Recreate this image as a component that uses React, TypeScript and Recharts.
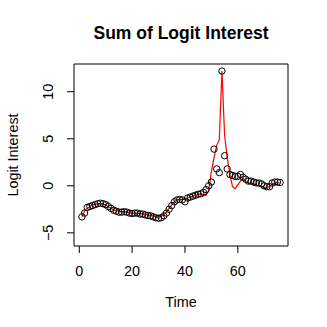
import React from 'react';
import {
  ComposedChart,
  Line,
  XAxis,
  YAxis,
  ReferenceArea,
} from 'recharts';

// observed logit interest (circles), t = 1..76
const observed = [
  -3.3, -2.9, -2.3, -2.2, -2.1, -2.0, -1.9, -1.85, -1.9, -2.0,
  -2.2, -2.4, -2.6, -2.7, -2.8, -2.8, -2.75, -2.8, -2.9, -2.95,
  -2.9, -2.9, -3.0, -3.0, -3.1, -3.15, -3.2, -3.3, -3.4, -3.45,
  -3.4, -3.2, -2.9, -2.5, -2.1, -1.7, -1.5, -1.45, -1.5, -1.7,
  -1.3, -1.2, -1.1, -1.0, -0.9, -0.85, -0.7, -0.4, 0.0, 0.4,
  3.9, 1.8, 1.4, 12.2, 3.2, 1.8, 1.2, 1.1, 1.0, 1.0,
  1.2, 0.9, 0.7, 0.5, 0.5, 0.4, 0.3, 0.3, 0.2, 0.0,
  -0.1, -0.1, 0.3, 0.4, 0.4, 0.35,
];

// fitted values (red line)
const fitted = [
  -3.3, -2.7, -2.4, -2.2, -2.05, -1.95, -1.9, -1.9, -1.95, -2.05,
  -2.2, -2.4, -2.55, -2.65, -2.7, -2.75, -2.75, -2.8, -2.85, -2.9,
  -2.9, -2.9, -2.95, -3.0, -3.05, -3.1, -3.15, -3.2, -3.3, -3.3,
  -3.25, -3.05, -2.8, -2.4, -2.0, -1.7, -1.5, -1.45, -1.45, -1.45,
  -1.3, -1.2, -1.1, -1.0, -0.9, -0.85, -0.9, -1.0, -0.5, 1.5,
  3.0, 4.3, 4.9, 12.2, 5.4, 3.0, 1.2, -0.1, -0.3, 0.1,
  0.5, 0.8, 0.4, 0.3, 0.35, 0.2, 0.1, 0.0, -0.1, -0.2,
  -0.2, -0.1, 0.2, 0.3, 0.3, 0.3,
];

const xTicks = [0, 20, 40, 60];
const yTicks = [-5, 0, 5, 10];

const data = observed.map((v, i) => ({ time: i + 1, obs: v, fit: fitted[i] }));

const font = '"Liberation Sans", Arial, Helvetica, sans-serif';

const YTick = (props: any) => {
  const { x, y, payload } = props;
  return (
    <text
      x={x}
      y={y}
      transform={`rotate(-90, ${x}, ${y})`}
      textAnchor="middle"
      dominantBaseline="central"
      fontSize={14.4}
      fontFamily={font}
      fill="#000"
    >
      {payload.value < 0 ? `\u2212${Math.abs(payload.value)}` : payload.value}
    </text>
  );
};

export default function App() {
  return (
    <div style={{ position: 'absolute', left: 0, top: 0, width: 327, height: 327, background: '#fff', fontFamily: font }}>
      <div style={{ position: 'absolute', left: 0, width: 362, top: 21, textAlign: 'center', fontSize: 17.5, fontWeight: 'bold', lineHeight: '24px' }}>
        Sum of Logit Interest
      </div>
      <div style={{ position: 'absolute', left: 0, width: 362, top: 292, textAlign: 'center', fontSize: 14.4, lineHeight: '20px' }}>
        Time
      </div>
      <div
        style={{
          position: 'absolute',
          left: 13,
          top: 155,
          transform: 'translate(-50%, -50%) rotate(-90deg)',
          fontSize: 14.4,
          whiteSpace: 'nowrap',
          lineHeight: '20px',
        }}
      >
        Logit Interest
      </div>
      <ComposedChart
        width={327}
        height={327}
        data={data}
        margin={{ top: 64, right: 39, bottom: 41, left: 34 }}
      >
        <XAxis
          dataKey="time"
          type="number"
          domain={[-2, 79]}
          ticks={xTicks}
          height={40}
          axisLine={false}
          tickSize={7}
          tickMargin={13}
          tickLine={{ stroke: '#000' }}
          tick={{ fontSize: 14.4, fill: '#000', fontFamily: font }}
          allowDataOverflow
        />
        <YAxis
          type="number"
          domain={[-6.4, 12.95]}
          ticks={yTicks}
          width={40}
          axisLine={false}
          tickSize={7}
          tickMargin={19}
          tickLine={{ stroke: '#000' }}
          tick={<YTick />}
          allowDataOverflow
        />
        <ReferenceArea
          x1={-2}
          x2={79}
          y1={-6.4}
          y2={12.95}
          fill="none"
          stroke="#000"
          strokeWidth={1}
          ifOverflow="visible"
        />
        <Line
          dataKey="obs"
          stroke="none"
          dot={{ r: 3.2, stroke: '#000', fill: 'none', strokeWidth: 1 }}
          isAnimationActive={false}
        />
        <Line
          dataKey="fit"
          type="linear"
          stroke="#ff0000"
          strokeWidth={1.2}
          dot={false}
          isAnimationActive={false}
        />
      </ComposedChart>
    </div>
  );
}
